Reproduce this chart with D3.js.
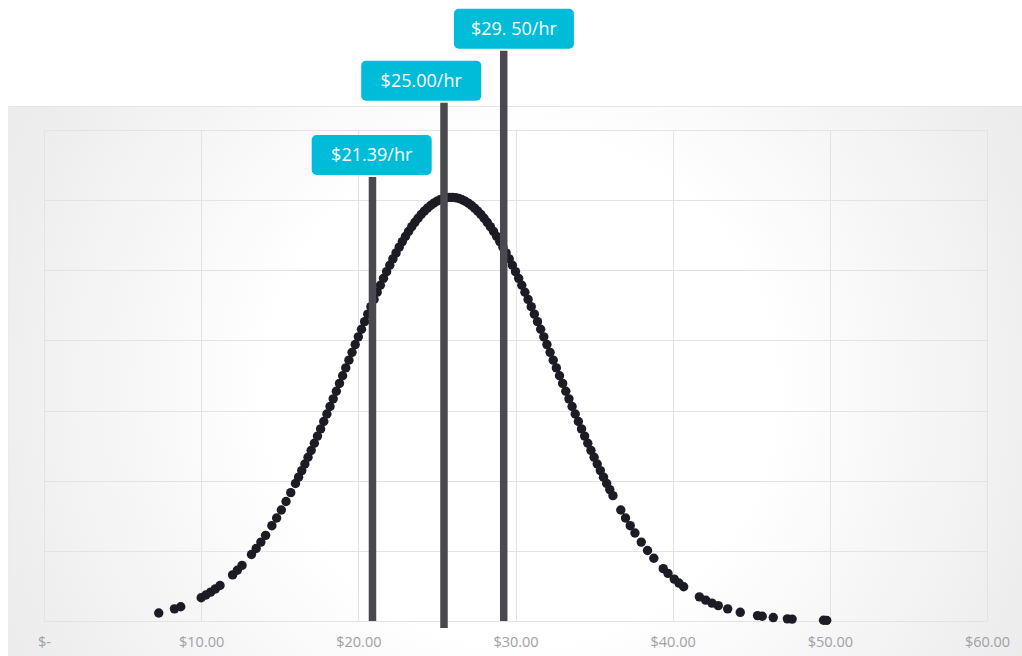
<!DOCTYPE html>
<html>
<head>
<meta charset="utf-8">
<script src="https://cdn.jsdelivr.net/npm/d3@7"></script>
<style>
  html, body { margin: 0; padding: 0; background: #fff; }
  svg { display: block; }
</style>
</head>
<body>
<div id="chart"></div>
<script>
// hourly wage sample ($) and its density
const wages = [
  7.3, 8.3, 8.7, 10.0, 10.3, 10.6, 10.9, 11.2, 12.0, 12.3, 12.6, 13.2, 13.5, 13.8, 14.1, 14.5, 14.8, 15.1, 15.4, 15.7,
  16.0, 16.2, 16.4, 16.6, 16.8, 17.0, 17.2, 17.4, 17.6, 17.8, 18.0, 18.2, 18.4, 18.6, 18.8, 19.0, 19.2, 19.4, 19.6, 19.8,
  20.0, 20.2, 20.4, 20.6, 20.8, 21.0, 21.2, 21.4, 21.6, 21.8, 22.0, 22.2, 22.4, 22.6, 22.8, 23.0, 23.2, 23.4, 23.6, 23.8,
  24.0, 24.2, 24.4, 24.6, 24.8, 25.0, 25.2, 25.4, 25.6, 25.8, 26.0, 26.2, 26.4, 26.6, 26.8, 27.0, 27.2, 27.4, 27.6, 27.8,
  28.0, 28.2, 28.4, 28.6, 28.8, 29.0, 29.2, 29.4, 29.6, 29.8, 30.0, 30.2, 30.4, 30.6, 30.8, 31.0, 31.2, 31.4, 31.6, 31.8,
  32.0, 32.2, 32.4, 32.6, 32.8, 33.0, 33.2, 33.4, 33.6, 33.8, 34.0, 34.2, 34.4, 34.6, 34.8, 35.0, 35.2, 35.4, 35.6, 35.8,
  36.0, 36.2, 36.7, 37.0, 37.3, 37.6, 38.0, 38.4, 38.8, 39.4, 39.7, 40.1, 40.4, 40.7, 41.7, 42.1, 42.5, 42.9, 43.5, 44.3,
  45.4, 45.7, 46.4, 47.3, 47.6, 49.6, 49.8
];
const density = [
  0.00114, 0.00173, 0.00203, 0.00332, 0.00370, 0.00411, 0.00457, 0.00506, 0.00657, 0.00723, 0.00793, 0.00948, 0.01034, 0.01125, 0.01221, 0.01359, 0.01468, 0.01583, 0.01704, 0.01830,
  0.01961, 0.02051, 0.02144, 0.02238, 0.02335, 0.02433, 0.02534, 0.02636, 0.02739, 0.02844, 0.02951, 0.03058, 0.03167, 0.03276, 0.03387, 0.03497, 0.03608, 0.03719, 0.03830, 0.03941,
  0.04051, 0.04160, 0.04268, 0.04375, 0.04481, 0.04585, 0.04687, 0.04787, 0.04885, 0.04980, 0.05072, 0.05162, 0.05248, 0.05330, 0.05409, 0.05484, 0.05555, 0.05622, 0.05684, 0.05742,
  0.05795, 0.05843, 0.05886, 0.05924, 0.05957, 0.05984, 0.06006, 0.06023, 0.06034, 0.06040, 0.06040, 0.06034, 0.06023, 0.06006, 0.05984, 0.05957, 0.05924, 0.05886, 0.05843, 0.05795,
  0.05742, 0.05684, 0.05622, 0.05555, 0.05484, 0.05409, 0.05330, 0.05248, 0.05162, 0.05072, 0.04980, 0.04885, 0.04787, 0.04687, 0.04585, 0.04481, 0.04375, 0.04268, 0.04160, 0.04051,
  0.03941, 0.03830, 0.03719, 0.03608, 0.03497, 0.03387, 0.03276, 0.03167, 0.03058, 0.02951, 0.02844, 0.02739, 0.02636, 0.02534, 0.02433, 0.02335, 0.02238, 0.02144, 0.02051, 0.01961,
  0.01873, 0.01787, 0.01583, 0.01468, 0.01359, 0.01255, 0.01125, 0.01005, 0.00894, 0.00746, 0.00679, 0.00597, 0.00541, 0.00489, 0.00344, 0.00297, 0.00255, 0.00219, 0.00173, 0.00124,
  0.00077, 0.00067, 0.00049, 0.00031, 0.00027, 0.00010, 0.00009
];

// marker lines with their callouts
const markerWage = [20.9, 25.45, 29.25];
const markerTop = [0.0633, 0.0739, 0.0813];
const markerBase = [0, -0.001, 0];
const markerLabels = ['$21.39/hr', '$25.00/hr', '$29. 50/hr'];
const labelCenter = [20.85, 24.0, 29.9];

const xTicks = [0, 10, 20, 30, 40, 50, 60];
const yTicks = [0, 0.01, 0.02, 0.03, 0.04, 0.05, 0.06, 0.07];
const xTickLabel = d => d === 0 ? '$-' : '$' + d3.format('.2f')(d);

const W = 1022, H = 656;
const margin = { top: 130, right: 35, bottom: 35, left: 44 };
const width = W - margin.left - margin.right;
const height = H - margin.top - margin.bottom;

const svg = d3.select('#chart').append('svg')
  .attr('width', W)
  .attr('height', H);

// soft radial backdrop of the chart panel
const grad = svg.append('defs').append('radialGradient')
  .attr('id', 'bg')
  .attr('gradientUnits', 'userSpaceOnUse')
  .attr('cx', 520).attr('cy', 390).attr('r', 560);
grad.append('stop').attr('offset', '0%').attr('stop-color', '#ffffff');
grad.append('stop').attr('offset', '45%').attr('stop-color', '#ffffff');
grad.append('stop').attr('offset', '100%').attr('stop-color', '#ececec');

svg.append('rect')
  .attr('x', 8).attr('y', 106)
  .attr('width', W - 8).attr('height', H - 106)
  .attr('fill', 'url(#bg)');
svg.append('line')
  .attr('x1', 8).attr('x2', W).attr('y1', 106.5).attr('y2', 106.5)
  .attr('stroke', '#e4e4e4');
svg.append('line')
  .attr('x1', 8.5).attr('x2', 8.5).attr('y1', 106).attr('y2', H)
  .attr('stroke', '#ececec');

const g = svg.append('g')
  .attr('transform', `translate(${margin.left},${margin.top})`);

const x = d3.scaleLinear().domain([0, 60]).range([0, width]);
const y = d3.scaleLinear().domain([0, 0.07]).range([height, 0]);

// gridlines
g.append('g')
  .selectAll('line')
  .data(xTicks)
  .enter().append('line')
  .attr('x1', d => Math.round(x(d)) + 0.5)
  .attr('x2', d => Math.round(x(d)) + 0.5)
  .attr('y1', 0).attr('y2', height)
  .attr('stroke', '#e3e3e6');

g.append('g')
  .selectAll('line')
  .data(yTicks)
  .enter().append('line')
  .attr('x1', 0).attr('x2', width)
  .attr('y1', d => Math.round(y(d)) + 0.5)
  .attr('y2', d => Math.round(y(d)) + 0.5)
  .attr('stroke', '#e3e3e6');

// x axis labels
const xAxis = g.append('g')
  .attr('transform', `translate(0,${height})`)
  .call(d3.axisBottom(x).tickValues(xTicks).tickFormat(xTickLabel).tickSize(0).tickPadding(16));
xAxis.select('.domain').remove();
xAxis.selectAll('text')
  .attr('fill', '#a0a0a8')
  .style('font-family', '"Open Sans", Lato, sans-serif')
  .style('font-size', '14.5px');

// sample points
const pts = wages.map((w, i) => ({ w, d: density[i] }));
g.append('g')
  .selectAll('circle')
  .data(pts)
  .enter().append('circle')
  .attr('cx', d => x(d.w))
  .attr('cy', d => y(d.d))
  .attr('r', 4.7)
  .attr('fill', '#1b1c24');

// marker lines
const markers = markerWage.map((w, i) => ({
  w, top: markerTop[i], base: markerBase[i], label: markerLabels[i], lx: labelCenter[i]
}));

g.append('g')
  .selectAll('line')
  .data(markers)
  .enter().append('line')
  .attr('x1', d => x(d.w)).attr('x2', d => x(d.w))
  .attr('y1', d => y(d.top)).attr('y2', d => y(d.base))
  .attr('stroke', '#4a4950')
  .attr('stroke-width', 7.5);

// callouts
const boxW = 120, boxH = 40;
const callout = g.append('g')
  .selectAll('g')
  .data(markers)
  .enter().append('g')
  .attr('transform', d => `translate(${x(d.lx) - boxW / 2},${y(d.top) - boxH - 2})`);

callout.append('rect')
  .attr('width', boxW).attr('height', boxH)
  .attr('rx', 5).attr('ry', 5)
  .attr('fill', '#00bcd9');

callout.append('text')
  .attr('x', boxW / 2)
  .attr('y', boxH / 2)
  .attr('dy', '0.35em')
  .attr('text-anchor', 'middle')
  .attr('fill', '#ffffff')
  .style('font-family', '"Open Sans", Lato, sans-serif')
  .style('font-size', '18px')
  .text(d => d.label);
</script>
</body>
</html>
